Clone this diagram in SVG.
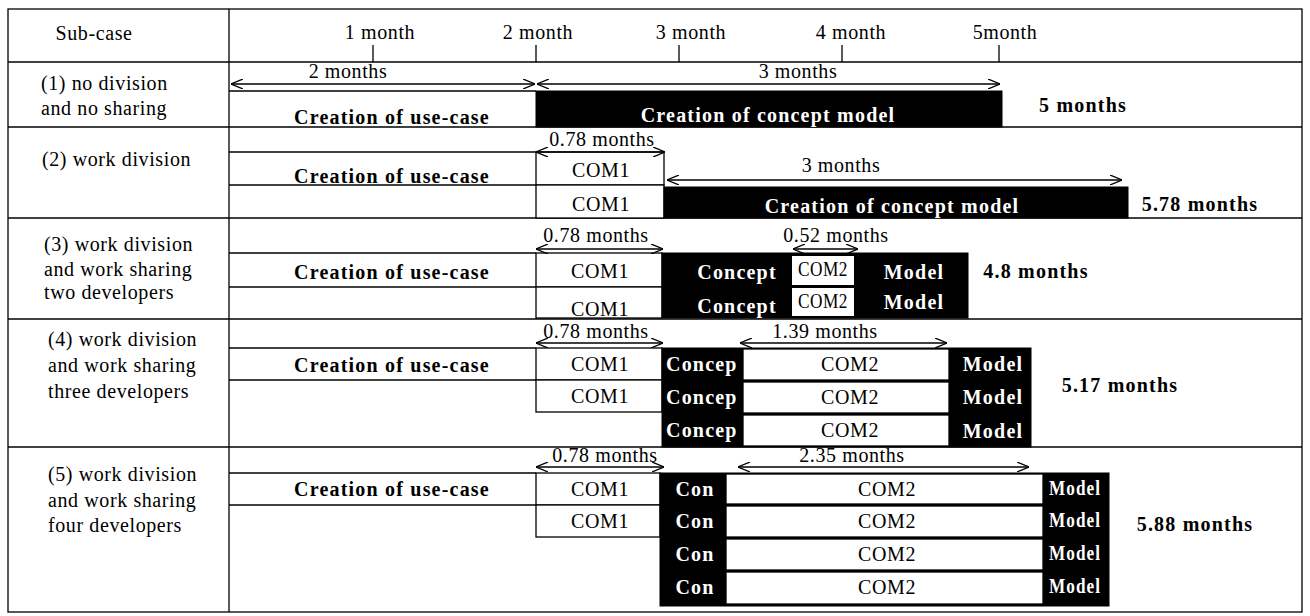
<svg xmlns="http://www.w3.org/2000/svg" width="1310" height="616" viewBox="0 0 1310 616">
<style>
.t{font-family:"Liberation Serif","Times New Roman",serif;font-size:20px;fill:#000;letter-spacing:0.6px}
.c{text-anchor:middle}
.b{font-weight:bold;letter-spacing:1.2px}
.w{fill:#fff}
.ln{stroke:#000;stroke-width:1.3;fill:none}
.box{stroke:#000;stroke-width:1.3;fill:#fff}
.blk{fill:#000;stroke:#000;stroke-width:1}
.dim{stroke:#000;stroke-width:1.3;fill:none;marker-start:url(#ah);marker-end:url(#ah)}
</style>
<defs>
<marker id="ah" viewBox="0 0 12 10" refX="12" refY="5" markerWidth="12" markerHeight="10" markerUnits="userSpaceOnUse" orient="auto-start-reverse">
<path d="M0,0 L12,5 L0,10" fill="none" stroke="#000" stroke-width="1.3"/>
</marker>
</defs>
<rect width="1310" height="616" fill="#fff"/>

<g id="table">
<rect x="8" y="9" width="1294" height="603" class="ln"/>
<line x1="229" y1="9" x2="229" y2="612" class="ln"/>
<line x1="8" y1="62" x2="1302" y2="62" class="ln"/>
<line x1="8" y1="127" x2="1302" y2="127" class="ln"/>
<line x1="8" y1="218" x2="1302" y2="218" class="ln"/>
<line x1="8" y1="319" x2="1302" y2="319" class="ln"/>
<line x1="8" y1="447" x2="1302" y2="447" class="ln"/>
</g>

<g id="header">
<text x="94" y="40" class="t c">Sub-case</text>
<text x="380" y="39" class="t c">1 month</text>
<text x="538" y="39" class="t c">2 month</text>
<text x="691" y="39" class="t c">3 month</text>
<text x="851" y="39" class="t c">4 month</text>
<text x="1005" y="39" class="t c">5month</text>
<line x1="373" y1="45" x2="373" y2="62" class="ln"/>
<line x1="536" y1="45" x2="536" y2="62" class="ln"/>
<line x1="679" y1="45" x2="679" y2="62" class="ln"/>
<line x1="842" y1="45" x2="842" y2="62" class="ln"/>
<line x1="999" y1="45" x2="999" y2="62" class="ln"/>
</g>

<g id="row1">
<text x="41" y="90" class="t">(1) no division</text>
<text x="41" y="115" class="t">and no sharing</text>
<line x1="229" y1="91" x2="536" y2="91" class="ln"/>
<text x="392" y="124" class="t c b">Creation of use-case</text>
<rect x="536" y="91" width="466" height="36" class="blk"/>
<text x="768" y="122" class="t c b w">Creation of concept model</text>
<text x="1083" y="112" class="t c b">5 months</text>
<text x="348" y="78" class="t c">2 months</text>
<text x="798" y="78" class="t c">3 months</text>
</g>

<g id="row2">
<text x="42" y="166" class="t">(2) work division</text>
<line x1="229" y1="152" x2="536" y2="152" class="ln"/>
<line x1="229" y1="185" x2="536" y2="185" class="ln"/>
<text x="392" y="183" class="t c b">Creation of use-case</text>
<rect x="536" y="152" width="128" height="33" class="box"/>
<rect x="536" y="185" width="128" height="33" class="box"/>
<text x="601" y="177" class="t c">COM1</text>
<text x="601" y="211" class="t c">COM1</text>
<rect x="664" y="187" width="464" height="31" class="blk"/>
<text x="892" y="213" class="t c b w">Creation of concept model</text>
<text x="1200" y="211" class="t c b">5.78 months</text>
<text x="602" y="146" class="t c">0.78 months</text>
<text x="841" y="172" class="t c">3 months</text>
</g>

<g id="row3">
<text x="44" y="251" class="t">(3) work division</text>
<text x="44" y="276" class="t">and work sharing</text>
<text x="44" y="299" class="t">two developers</text>
<line x1="229" y1="253" x2="536" y2="253" class="ln"/>
<line x1="229" y1="287" x2="536" y2="287" class="ln"/>
<text x="392" y="279" class="t c b">Creation of use-case</text>
<rect x="536" y="253" width="126" height="34" class="box"/>
<rect x="536" y="287" width="126" height="31" class="box"/>
<text x="600" y="278" class="t c">COM1</text>
<text x="600" y="316" class="t c">COM1</text>
<rect x="662" y="253" width="306" height="65" class="blk"/>
<rect x="792" y="256" width="62" height="29" fill="#fff"/>
<rect x="792" y="288" width="62" height="28" fill="#fff"/>
<text x="737" y="279" class="t c b w" font-size="21">Concept</text>
<text x="737" y="313" class="t c b w" font-size="21">Concept</text>
<text x="823" y="276" class="t c" font-size="15" textLength="50" lengthAdjust="spacingAndGlyphs">COM2</text>
<text x="823" y="308" class="t c" font-size="15" textLength="50" lengthAdjust="spacingAndGlyphs">COM2</text>
<text x="914" y="279" class="t c b w">Model</text>
<text x="914" y="309" class="t c b w">Model</text>
<text x="1036" y="278" class="t c b">4.8 months</text>
<text x="596" y="242" class="t c">0.78 months</text>
<text x="836" y="242" class="t c">0.52 months</text>
</g>

<g id="row4">
<text x="48" y="346" class="t">(4) work division</text>
<text x="48" y="372" class="t">and work sharing</text>
<text x="48" y="398" class="t">three developers</text>
<line x1="229" y1="348" x2="536" y2="348" class="ln"/>
<line x1="229" y1="380" x2="536" y2="380" class="ln"/>
<text x="392" y="372" class="t c b">Creation of use-case</text>
<rect x="536" y="348" width="126" height="32" class="box"/>
<rect x="536" y="380" width="126" height="32" class="box"/>
<text x="600" y="371" class="t c">COM1</text>
<text x="600" y="403" class="t c">COM1</text>
<rect x="662" y="348" width="369" height="99" class="blk"/>
<text x="666" y="371" class="t b w" letter-spacing="1.5">Concep</text>
<text x="666" y="404" class="t b w" letter-spacing="1.5">Concep</text>
<text x="666" y="437" class="t b w" letter-spacing="1.5">Concep</text>
<rect x="743" y="349" width="206" height="31" class="box"/>
<rect x="743" y="382" width="206" height="31" class="box"/>
<rect x="743" y="415" width="206" height="31" class="box"/>
<text x="850" y="371" class="t c">COM2</text>
<text x="850" y="404" class="t c">COM2</text>
<text x="850" y="437" class="t c">COM2</text>
<text x="993" y="371" class="t c b w">Model</text>
<text x="993" y="404" class="t c b w">Model</text>
<text x="993" y="438" class="t c b w">Model</text>
<text x="1120" y="392" class="t c b">5.17 months</text>
<text x="596" y="338" class="t c">0.78 months</text>
<text x="825" y="338" class="t c">1.39 months</text>
</g>

<g id="row5">
<text x="48" y="481" class="t">(5) work division</text>
<text x="48" y="507" class="t">and work sharing</text>
<text x="48" y="532" class="t">four developers</text>
<line x1="229" y1="473" x2="536" y2="473" class="ln"/>
<line x1="229" y1="505" x2="536" y2="505" class="ln"/>
<text x="392" y="496" class="t c b">Creation of use-case</text>
<rect x="536" y="473" width="124" height="32" class="box"/>
<rect x="536" y="505" width="124" height="32" class="box"/>
<text x="600" y="496" class="t c">COM1</text>
<text x="600" y="528" class="t c">COM1</text>
<rect x="660" y="473" width="449" height="133" class="blk"/>
<rect x="726" y="474" width="317" height="30" class="box"/>
<rect x="726" y="506" width="317" height="31" class="box"/>
<rect x="726" y="539" width="317" height="31" class="box"/>
<rect x="726" y="572" width="317" height="32" class="box"/>
<text x="695" y="496" class="t c b w">Con</text>
<text x="695" y="528" class="t c b w">Con</text>
<text x="695" y="561" class="t c b w">Con</text>
<text x="695" y="594" class="t c b w">Con</text>
<text x="887" y="496" class="t c">COM2</text>
<text x="887" y="528" class="t c">COM2</text>
<text x="887" y="561" class="t c">COM2</text>
<text x="887" y="594" class="t c">COM2</text>
<text x="1075" y="495" class="t c b w" font-size="15" textLength="52" lengthAdjust="spacingAndGlyphs">Model</text>
<text x="1075" y="527" class="t c b w" font-size="15" textLength="52" lengthAdjust="spacingAndGlyphs">Model</text>
<text x="1075" y="560" class="t c b w" font-size="15" textLength="52" lengthAdjust="spacingAndGlyphs">Model</text>
<text x="1075" y="593" class="t c b w" font-size="15" textLength="52" lengthAdjust="spacingAndGlyphs">Model</text>
<text x="1195" y="531" class="t c b">5.88 months</text>
<text x="605" y="462" class="t c">0.78 months</text>
<text x="852" y="462" class="t c">2.35 months</text>
</g>

<g id="connectors">
<line x1="231" y1="84" x2="535" y2="84" class="dim"/>
<line x1="537" y1="84" x2="1000" y2="84" class="dim"/>
<line x1="536" y1="152" x2="665" y2="152" class="dim"/>
<line x1="667" y1="180" x2="1122" y2="180" class="dim"/>
<line x1="536" y1="249" x2="663" y2="249" class="dim"/>
<line x1="793" y1="249" x2="858" y2="249" class="dim"/>
<line x1="536" y1="343" x2="663" y2="343" class="dim"/>
<line x1="740" y1="343" x2="947" y2="343" class="dim"/>
<line x1="536" y1="467" x2="664" y2="467" class="dim"/>
<line x1="738" y1="467" x2="1029" y2="467" class="dim"/>
</g>
</svg>
